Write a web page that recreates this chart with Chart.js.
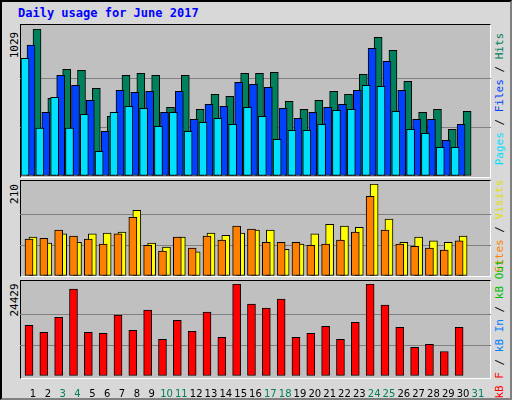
<!DOCTYPE html>
<html><head><meta charset="utf-8">
<script src="https://cdn.jsdelivr.net/npm/chart.js@4"></script>
<style>
body{margin:0;width:512px;height:400px;overflow:hidden;background:#fff}
#frame{position:absolute;left:0;top:0;width:508px;height:396px;background:#d8d8d8;border:2px solid #000;border-right-color:#808080;border-bottom-color:#808080}
.box{position:absolute;left:20px;width:469px;background:#c0c0c0;border:1px solid #000;border-right-color:#fff;border-bottom-color:#fff}
canvas{position:absolute}
.t{position:absolute;font-family:"DejaVu Sans Mono",monospace;font-size:11px;white-space:nowrap;transform:translate(-50%,-50%) rotate(-90deg)}
#title{position:absolute;left:18px;top:6px;font-family:"DejaVu Sans Mono",monospace;font-weight:bold;font-size:12px;color:#0000ff}
</style></head><body>
<div id="frame"></div>
<div id="title">Daily usage for June 2017</div>
<div class="box" style="top:24px;height:152px"></div>
<div class="box" style="top:180px;height:95px"></div>
<div class="box" style="top:280px;height:97px"></div>
<div class="t" style="left:14px;top:45px">1029</div>
<div class="t" style="left:14px;top:194px">210</div>
<div class="t" style="left:14px;top:300px">24429</div>
<div class="t" style="left:499px;top:99px"><span style="color:#00e0ff">Pages</span> / <span style="color:#0040ff">Files</span> / <span style="color:#00805c">Hits</span></div>
<div class="t" style="left:499px;top:226px"><span style="color:#ff8000">Sites</span> / <span style="color:#e0e000">Visits</span></div>
<div class="t" style="left:499px;top:329px"><span style="color:#ff0000">kB F</span> / <span style="color:#0080ff">kB In</span> / <span style="color:#00c000">kB Out</span></div>
<canvas id="c1" width="471" height="147" style="left:20px;top:29px"></canvas>
<canvas id="c2" width="471" height="92" style="left:20px;top:184px"></canvas>
<canvas id="c3" width="471" height="116" style="left:20px;top:284px"></canvas>
<script>
const days=[1,2,3,4,5,6,7,8,9,10,11,12,13,14,15,16,17,18,19,20,21,22,23,24,25,26,27,28,29,30];
const dayLabels=[1,2,3,4,5,6,7,8,9,10,11,12,13,14,15,16,17,18,19,20,21,22,23,24,25,26,27,28,29,30,31];
const weekendDays=[3,4,10,11,17,18,24,25,31];
const hits=[1029,544,747,740,614,418,705,719,705,481,705,467,572,558,719,719,726,523,467,530,593,572,712,971,880,663,446,467,327,453];
const files=[917,446,705,635,530,313,600,586,593,446,593,397,502,488,656,642,621,474,404,446,481,502,600,894,803,600,397,397,250,362];
const pages=[824,336,551,336,432,173,446,488,474,348,446,313,376,404,362,481,418,257,320,320,362,460,467,635,628,453,327,299,201,201];
const visits=[89,75,96,77,96,98,100,150,75,66,89,55,98,93,98,105,105,61,73,96,118,114,111,210,130,77,89,80,77,91];
const sites=[84,86,105,91,84,73,96,134,70,57,89,64,91,82,114,107,77,77,77,70,73,82,100,182,105,73,68,64,59,80];
const kbytes=[13470,11600,15610,23100,11600,11330,16150,12130,17480,9720,14810,11860,16950,10260,24429,19090,18020,20430,10260,11330,13200,9720,14270,24429,18820,12930,7580,8380,6510,12930];
const maxTop=1029, maxMid=210, maxBot=24429;

function ds(vals,off,color,order){
  return {data:days.map((d,i)=>({x:d+off,y:vals[i]})),backgroundColor:color,borderColor:'#000',borderWidth:1,barThickness:8,order:order,borderSkipped:false};
}
function opts(max,showX){
  return {responsive:false,animation:false,
    plugins:{legend:{display:false},tooltip:{enabled:false}},
    layout:{padding:0},
    scales:{
      x:{type:'linear',min:0.123,max:31.88,display:showX,offset:false,
        grid:{display:false},border:{display:false},
        afterBuildTicks:s=>{s.ticks=dayLabels.map(v=>({value:v}));},
        afterFit:s=>{s.height=showX?24:0;},
        ticks:{padding:4,autoSkip:false,maxRotation:0,font:{family:'DejaVu Sans',size:10},
          color:c=>weekendDays.includes(c.tick.value)?'#00805c':'#000'}},
      y:{min:0,max:max,display:true,
        afterBuildTicks:s=>{s.ticks=[0,max/3,2*max/3].map(v=>({value:v}));},
        afterFit:s=>{s.width=0;},
        ticks:{display:false},border:{display:false},
        grid:{drawTicks:false,color:c=>c.index===0?'rgba(0,0,0,0)':'#808080',lineWidth:1}}
    }};
}
new Chart(document.getElementById('c1'),{type:'bar',data:{datasets:[
  ds(hits,-0.27,'#00805c',2),ds(files,-0.135,'#0040ff',1),ds(pages,0,'#00e0ff',0)]},options:opts(maxTop,false)});
new Chart(document.getElementById('c2'),{type:'bar',data:{datasets:[
  ds(visits,-0.27,'#ffff00',1),ds(sites,0,'#ff8000',0)]},options:opts(maxMid,false)});
new Chart(document.getElementById('c3'),{type:'bar',data:{datasets:[
  ds(kbytes,-0.27,'#ff0000',0)]},options:opts(maxBot,true)});
</script>
</body></html>
